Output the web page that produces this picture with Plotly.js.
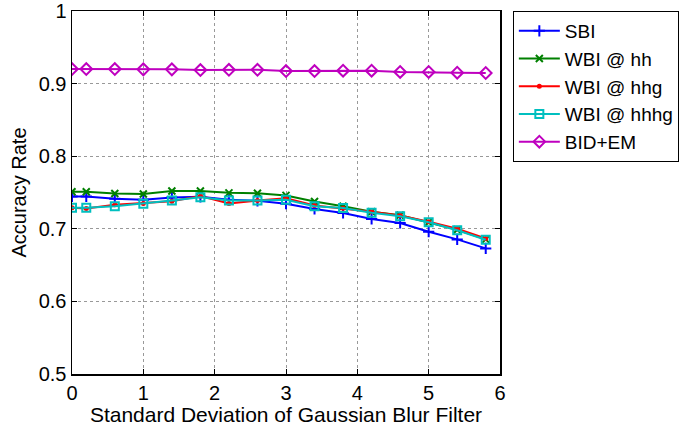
<!DOCTYPE html>
<html><head><meta charset="utf-8">
<script src="https://cdn.plot.ly/plotly-3.0.1.min.js"></script>
<style>body{margin:0;background:#fff}#c{width:690px;height:427px}</style>
</head><body><div id="c"></div>
<script>
const sigma = [0, 0.2, 0.6, 1.0, 1.4, 1.8, 2.2, 2.6, 3.0, 3.4, 3.8, 4.2, 4.6, 5.0, 5.4, 5.8];
const sbi   = [0.7445, 0.7445, 0.7413, 0.740, 0.743, 0.744, 0.740, 0.7386, 0.7345, 0.7273, 0.7218, 0.7136, 0.708, 0.696, 0.6854, 0.673];
const wbiHH = [0.751, 0.751, 0.7486, 0.748, 0.752, 0.752, 0.7495, 0.749, 0.746, 0.7377, 0.731, 0.7236, 0.7186, 0.709, 0.6986, 0.6854];
const wbiHHG = [0.729, 0.728, 0.733, 0.735, 0.738, 0.745, 0.735, 0.739, 0.742, 0.732, 0.7283, 0.7236, 0.7182, 0.7097, 0.700, 0.6866];
const wbiHHHG = [0.729, 0.729, 0.731, 0.7345, 0.739, 0.7436, 0.739, 0.739, 0.740, 0.731, 0.7286, 0.722, 0.7173, 0.709, 0.698, 0.685];
const bidEM = [0.920, 0.920, 0.920, 0.9196, 0.9196, 0.9187, 0.919, 0.919, 0.9173, 0.9173, 0.9178, 0.9178, 0.916, 0.916, 0.915, 0.9146];
const names = ['SBI', 'WBI @ hh', 'WBI @ hhg', 'WBI @ hhhg', 'BID+EM'];

const series = [sbi, wbiHH, wbiHHG, wbiHHHG, bidEM];
const colors = ['#0000ff', '#008000', '#ff0000', '#00bfbf', '#bf00bf'];
const symbols = ['cross-thin-open', 'x-thin-open', 'circle', 'square-open', 'diamond-open'];
const sizes = [8, 7, 3, 8, 9];

const traces = series.map((ys, i) => ({
  x: sigma, y: ys, name: names[i], type: 'scatter', mode: 'lines+markers',
  line: {color: colors[i], width: 2},
  marker: {symbol: symbols[i], size: sizes[i], color: colors[i], line: {color: colors[i], width: 2}}
}));

const font = {family: 'Liberation Sans, Arial, sans-serif', color: '#000'};
const layout = {
  width: 690, height: 427,
  margin: {l: 72, r: 190, t: 11, b: 53},
  paper_bgcolor: '#fff', plot_bgcolor: '#fff',
  font: Object.assign({size: 20}, font),
  showlegend: true,
  legend: {x: 1.03, xref: 'paper', xanchor: 'left', y: 1, yanchor: 'top',
    bordercolor: '#000', borderwidth: 1, bgcolor: '#fff', itemwidth: 41,
    font: Object.assign({size: 19}, font), tracegroupgap: 0},
  xaxis: {range: [0, 6], dtick: 1, tick0: 0, showgrid: true, gridcolor: '#999', griddash: 'dot', gridwidth: 1,
    zeroline: false, showline: true, linecolor: '#000', linewidth: 1.5, mirror: 'ticks',
    ticks: 'inside', ticklen: 5, tickcolor: '#000', tickfont: Object.assign({size: 20}, font),
    title: {text: 'Standard Deviation of Gaussian Blur Filter', font: Object.assign({size: 21}, font), standoff: 0}},
  yaxis: {range: [0.5, 1], dtick: 0.1, tick0: 0.5, showgrid: true, gridcolor: '#999', griddash: 'dot', gridwidth: 1,
    zeroline: false, showline: true, linecolor: '#000', linewidth: 1.5, mirror: 'ticks',
    ticks: 'inside', ticklen: 5, tickcolor: '#000', tickfont: Object.assign({size: 20}, font),
    tickformat: '.1~f',
    title: {text: 'Accuracy Rate', font: Object.assign({size: 20}, font), standoff: 6}}
};
Plotly.newPlot('c', traces, layout, {displayModeBar: false, staticPlot: true});
</script></body></html>
